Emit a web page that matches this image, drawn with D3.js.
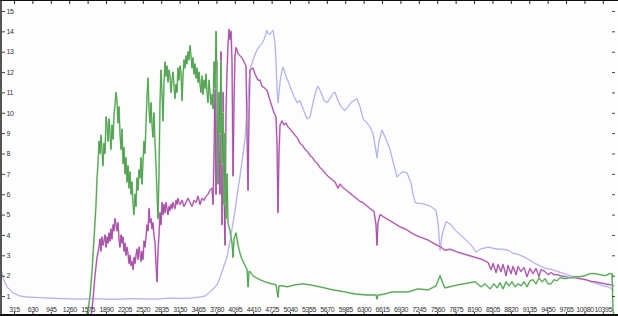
<!DOCTYPE html>
<html>
<head>
<meta charset="utf-8">
<script src="https://cdn.jsdelivr.net/npm/d3@7"></script>
<style>
  body { margin: 0; background: #fff; }
  svg { display: block; font-family: 'DejaVu Sans', sans-serif; }
  .tick text { fill: #333; font-size: 7px; letter-spacing: -0.4px; }
</style>
</head>
<body>
<div id="chart"></div>
<script>
// wavelength ticks along the bottom (every 315)
var xTicks = [315, 630, 945, 1260, 1575, 1890, 2205, 2520, 2835, 3150, 3465, 3780, 4095, 4410, 4725,
  5040, 5355, 5670, 5985, 6300, 6615, 6930, 7245, 7560, 7875, 8190, 8505, 8820, 9135, 9450,
  9765, 10080, 10395]
var yTicks = [1, 2, 3, 4, 5, 6, 7, 8, 9, 10, 11, 12, 13, 14, 15]

// [wavelength, flux]
var blueSpec = [
  [75, 2.6], [126, 1.9], [195, 1.45], [298, 1.15], [417, 1.0], [537, 0.95], [760, 0.92], [931, 0.9],
  [1102, 0.88], [1270, 0.86], [1445, 0.85], [1620, 0.87], [1787, 0.86], [1960, 0.84], [2129, 0.85],
  [2300, 0.87], [2472, 0.87], [2640, 0.85], [2814, 0.86], [2985, 0.9], [3157, 0.88], [3328, 0.9],
  [3499, 0.95], [3585, 1.0], [3670, 1.2], [3739, 1.4], [3790, 1.55], [3841, 1.9], [3876, 2.2],
  [3910, 2.5], [3961, 2.9], [4013, 3.7], [4064, 4.6], [4098, 5.2], [4132, 5.9], [4184, 6.9],
  [4218, 7.6], [4269, 8.7], [4304, 10.0], [4355, 12.1], [4406, 12.6], [4475, 13.1], [4526, 13.3],
  [4560, 13.4], [4595, 13.6], [4646, 14.05], [4663, 13.9], [4698, 13.85], [4732, 14.0], [4749, 14.05],
  [4783, 13.4], [4800, 12.5], [4817, 11.2], [4834, 10.5], [4869, 11.5], [4903, 12.1], [4920, 12.25],
  [4971, 11.8], [5040, 11.3], [5108, 10.8], [5160, 10.5], [5211, 10.6], [5262, 10.2], [5331, 9.7],
  [5382, 9.8], [5434, 10.5], [5485, 11.1], [5519, 11.3], [5571, 11.0], [5622, 10.6], [5673, 10.5],
  [5725, 10.7], [5776, 10.95], [5810, 11.0], [5862, 10.6], [5913, 10.3], [5981, 10.1], [6033, 10.3],
  [6084, 10.5], [6135, 10.6], [6185, 10.7], [6238, 10.3], [6290, 9.7], [6358, 9.5], [6409, 9.3],
  [6461, 9.0], [6495, 8.4], [6529, 7.8], [6563, 8.6], [6615, 9.15], [6683, 8.7], [6752, 8.2],
  [6803, 7.6], [6872, 6.85], [6923, 7.0], [6974, 7.1], [7043, 7.05], [7077, 6.8], [7111, 6.55],
  [7146, 6.0], [7180, 5.6], [7231, 5.55], [7283, 5.55], [7351, 5.5], [7454, 5.4], [7539, 5.2],
  [7574, 4.6], [7608, 3.25], [7642, 4.0], [7710, 4.65], [7779, 4.55], [7865, 4.25], [7916, 4.1],
  [8002, 3.9], [8087, 3.65], [8156, 3.45], [8224, 3.15], [8292, 3.3], [8361, 3.35], [8430, 3.4],
  [8515, 3.35], [8601, 3.3], [8686, 3.3], [8772, 3.25], [8857, 3.1], [8943, 3.05], [9063, 2.9],
  [9148, 2.75], [9234, 2.6], [9337, 2.45], [9422, 2.35], [9525, 2.3], [9628, 2.2], [9730, 2.1],
  [9833, 2.0], [9919, 1.95], [10004, 1.85], [10107, 1.8], [10193, 1.7], [10296, 1.6], [10398, 1.5],
  [10484, 1.45], [10586, 1.3]
]

var purpleSpec = [
  [1633, 0], [1667, 0.8], [1701, 2.0], [1736, 2.9], [1770, 3.4], [1787, 3.8], [1804, 3.2], [1821, 3.9],
  [1838, 3.5], [1855, 3.7], [1873, 4.0], [1890, 3.4], [1907, 3.9], [1924, 3.6], [1941, 4.1], [1958, 3.7],
  [1975, 4.3], [1992, 3.8], [2010, 4.5], [2027, 4.2], [2044, 4.8], [2061, 4.5], [2078, 4.2], [2095, 4.6],
  [2112, 3.8], [2129, 3.4], [2147, 4.0], [2164, 3.6], [2181, 3.9], [2198, 3.2], [2215, 3.6], [2232, 3.0],
  [2249, 3.4], [2266, 3.1], [2284, 2.6], [2301, 3.0], [2318, 2.5], [2335, 2.7], [2352, 2.3], [2369, 2.9],
  [2386, 2.6], [2403, 3.0], [2420, 3.3], [2438, 2.8], [2455, 3.4], [2472, 3.1], [2489, 2.7], [2506, 3.2],
  [2523, 2.8], [2540, 3.7], [2557, 3.4], [2575, 3.9], [2592, 4.5], [2609, 4.2], [2626, 5.3], [2643, 4.6],
  [2660, 4.8], [2677, 4.3], [2694, 4.6], [2711, 4.0], [2729, 3.6], [2746, 2.5], [2763, 1.7], [2780, 3.2],
  [2797, 4.0], [2814, 5.1], [2831, 4.5], [2848, 5.6], [2866, 5.0], [2883, 5.5], [2900, 5.1], [2917, 5.6],
  [2934, 5.3], [2951, 5.0], [2968, 5.4], [2985, 5.2], [3003, 5.5], [3020, 5.3], [3037, 5.6], [3054, 5.4],
  [3071, 5.3], [3088, 5.7], [3105, 5.5], [3122, 5.8], [3139, 5.6], [3157, 5.5], [3191, 5.7], [3225, 5.4],
  [3259, 5.6], [3294, 5.8], [3328, 5.6], [3362, 5.4], [3396, 5.7], [3431, 5.6], [3465, 5.9], [3499, 5.5],
  [3533, 5.8], [3567, 5.7], [3602, 5.9], [3636, 6.0], [3670, 6.2], [3704, 6.3], [3722, 5.5], [3739, 8.0],
  [3756, 11.5], [3773, 6.0], [3790, 12.5], [3807, 7.0], [3824, 9.5], [3841, 6.0], [3858, 13.0], [3876, 4.5],
  [3893, 11.0], [3910, 6.5], [3927, 3.5], [3944, 10.0], [3961, 12.0], [3978, 13.3], [3995, 14.1],
  [4013, 13.6], [4030, 14.0], [4047, 12.5], [4064, 6.9], [4081, 10.5], [4098, 12.8], [4115, 13.2],
  [4132, 13.1], [4150, 12.9], [4184, 12.8], [4218, 12.7], [4252, 12.5], [4287, 12.3], [4304, 9.0],
  [4321, 6.2], [4338, 10.0], [4355, 12.1], [4406, 12.2], [4441, 11.9], [4492, 11.6], [4526, 11.6],
  [4560, 11.3], [4612, 11.2], [4646, 11.1], [4698, 10.6], [4732, 10.3], [4766, 10.0], [4800, 9.8],
  [4817, 8.5], [4834, 5.1], [4851, 8.0], [4869, 9.4], [4903, 9.6], [4937, 9.4], [4971, 9.5], [5006, 9.3],
  [5040, 9.2], [5083, 9.05], [5126, 8.9], [5168, 8.75], [5211, 8.5], [5254, 8.4], [5297, 8.2],
  [5340, 8.1], [5382, 7.9], [5425, 7.8], [5468, 7.6], [5511, 7.5], [5554, 7.3], [5597, 7.2], [5639, 7.05],
  [5682, 6.9], [5725, 6.8], [5768, 6.7], [5810, 6.6], [5862, 6.3], [5896, 6.5], [5938, 6.35],
  [5981, 6.25], [6024, 6.15], [6067, 6.05], [6109, 5.95], [6151, 5.85], [6195, 5.75], [6238, 5.65],
  [6281, 5.6], [6324, 5.5], [6367, 5.4], [6409, 5.3], [6478, 5.15], [6512, 4.5], [6529, 3.5], [6546, 4.6],
  [6581, 5.0], [6666, 4.85], [6752, 4.7], [6837, 4.55], [6923, 4.4], [7009, 4.3], [7094, 4.15],
  [7180, 4.0], [7266, 3.9], [7403, 3.75], [7522, 3.55], [7625, 3.4], [7693, 3.25], [7779, 3.3],
  [7916, 3.15], [8036, 3.05], [8207, 2.9], [8327, 2.8], [8430, 2.65], [8481, 2.3], [8515, 2.6],
  [8567, 2.15], [8601, 2.55], [8652, 2.2], [8686, 2.55], [8738, 2.0], [8772, 2.5], [8823, 2.1],
  [8857, 2.45], [8909, 2.05], [8943, 2.45], [8994, 2.2], [9046, 2.4], [9097, 1.95], [9148, 2.35],
  [9200, 2.1], [9251, 2.35], [9302, 1.95], [9337, 2.3], [9405, 2.2], [9457, 2.05], [9508, 2.15],
  [9559, 2.05], [9611, 2.05], [9662, 2.0], [9748, 1.95], [9833, 1.9], [9919, 1.9], [10004, 1.85],
  [10107, 1.8], [10193, 1.72], [10261, 1.7], [10347, 1.65], [10433, 1.6], [10535, 1.55], [10586, 1.5]
]

var greenSpec = [
  [1445, 0], [1547, 0], [1582, 0.3], [1616, 1.0], [1650, 2.2], [1684, 3.8], [1719, 5.5], [1736, 6.8],
  [1753, 7.5], [1770, 8.6], [1787, 8.0], [1804, 8.9], [1821, 8.2], [1838, 7.4], [1855, 8.5], [1873, 8.0],
  [1890, 9.8], [1907, 9.4], [1924, 8.6], [1941, 9.7], [1958, 9.0], [1975, 8.2], [1992, 9.4], [2010, 8.7],
  [2027, 9.9], [2044, 10.4], [2061, 11.0], [2078, 10.6], [2095, 9.5], [2112, 10.3], [2129, 9.0],
  [2147, 8.2], [2164, 9.2], [2181, 7.5], [2198, 8.3], [2215, 7.0], [2232, 7.8], [2249, 6.6], [2266, 7.4],
  [2284, 6.3], [2301, 7.1], [2318, 6.0], [2335, 6.6], [2352, 5.5], [2369, 5.0], [2386, 6.0], [2403, 5.4],
  [2420, 6.8], [2438, 6.2], [2455, 7.2], [2472, 6.8], [2489, 7.8], [2506, 6.5], [2523, 7.6], [2540, 8.6],
  [2557, 8.0], [2575, 9.5], [2592, 10.8], [2609, 11.7], [2626, 10.2], [2643, 9.5], [2660, 10.5],
  [2677, 9.4], [2694, 8.8], [2711, 10.0], [2729, 8.5], [2746, 7.4], [2763, 6.0], [2780, 4.8], [2797, 7.0],
  [2814, 10.5], [2831, 12.1], [2848, 11.0], [2866, 9.6], [2883, 11.5], [2900, 12.5], [2917, 11.8],
  [2934, 12.3], [2951, 11.5], [2968, 12.1], [2985, 11.8], [3003, 11.0], [3020, 11.6], [3037, 12.0],
  [3054, 11.3], [3071, 10.7], [3088, 11.4], [3105, 11.0], [3122, 12.2], [3139, 11.6], [3157, 12.3],
  [3174, 12.0], [3191, 10.6], [3208, 11.8], [3225, 12.6], [3242, 12.2], [3259, 12.8], [3276, 12.4],
  [3294, 13.0], [3311, 12.6], [3328, 13.3], [3345, 12.8], [3362, 12.2], [3379, 12.7], [3396, 11.9],
  [3413, 12.4], [3431, 11.7], [3448, 12.2], [3465, 11.5], [3482, 12.0], [3499, 11.4], [3516, 11.0],
  [3533, 11.8], [3550, 10.9], [3567, 11.6], [3585, 11.2], [3602, 11.9], [3619, 11.0], [3636, 10.5],
  [3653, 11.6], [3670, 11.0], [3687, 10.4], [3704, 10.9], [3722, 10.2], [3739, 12.5], [3756, 11.2],
  [3773, 14.0], [3790, 11.5], [3807, 6.5], [3824, 11.0], [3841, 9.0], [3858, 12.5], [3876, 7.5],
  [3893, 10.0], [3910, 5.5], [3927, 9.0], [3944, 4.8], [3961, 7.0], [3978, 4.6], [4013, 4.2], [4047, 3.6],
  [4064, 2.9], [4081, 3.8], [4115, 4.1], [4150, 3.5], [4184, 3.1], [4218, 2.8], [4252, 2.6], [4287, 2.4],
  [4304, 2.3], [4321, 1.45], [4338, 2.2], [4355, 2.2], [4406, 2.0], [4458, 1.9], [4526, 1.8], [4612, 1.7],
  [4698, 1.62], [4800, 1.55], [4834, 0.95], [4851, 1.5], [4920, 1.5], [4988, 1.45], [5126, 1.55],
  [5262, 1.6], [5382, 1.55], [5554, 1.45], [5776, 1.3], [5981, 1.2], [6151, 1.1], [6358, 1.05],
  [6512, 1.05], [6529, 0.85], [6546, 1.05], [6666, 1.1], [6786, 1.2], [6923, 1.2], [7060, 1.2],
  [7231, 1.35], [7403, 1.3], [7539, 1.5], [7608, 2.0], [7660, 1.6], [7693, 1.4], [7916, 1.55],
  [8207, 1.7], [8310, 1.45], [8378, 1.6], [8464, 1.35], [8532, 1.6], [8584, 1.4], [8635, 1.65],
  [8686, 1.35], [8738, 1.7], [8789, 1.5], [8840, 1.7], [8892, 1.45], [8943, 1.6], [8994, 1.5],
  [9046, 1.7], [9097, 1.45], [9148, 1.75], [9200, 1.8], [9251, 1.6], [9302, 1.9], [9354, 1.7],
  [9405, 1.85], [9457, 1.6], [9508, 1.6], [9559, 1.8], [9611, 1.75], [9662, 1.9], [9748, 1.85],
  [9833, 1.9], [9919, 1.95], [10004, 1.95], [10090, 2.0], [10176, 2.1], [10261, 2.1], [10347, 2.05],
  [10433, 2.0], [10518, 2.1], [10552, 2.1], [10569, 0.3], [10586, 0]
]

var width = 618
var height = 316

var x = d3.scaleLinear().domain([75, 10586]).range([0, 614])
var y = d3.scaleLinear().domain([0, 15.5]).range([316.4, 0.8])

var svg = d3.select('#chart')
  .append('svg')
  .attr('width', width)
  .attr('height', height)

svg.append('rect')
  .attr('width', width)
  .attr('height', height)
  .attr('fill', '#fdfdfd')

svg.append('defs')
  .append('clipPath')
  .attr('id', 'plot-clip')
  .append('rect')
  .attr('x', 2)
  .attr('y', 1)
  .attr('width', 614)
  .attr('height', 313)

var line = d3.line()
  .x(function (d) { return x(d[0]) })
  .y(function (d) { return y(d[1]) })

var plot = svg.append('g').attr('clip-path', 'url(#plot-clip)')

// light halo first, then the darker core
var series = [
  { data: blueSpec, halo: '#d2d2f8', core: '#a2a2f0', haloW: 1.4 },
  { data: purpleSpec, halo: '#dcaadc', core: '#8e2a8e', haloW: 1.8 },
  { data: greenSpec, halo: '#a6d8a6', core: '#2f8a2f', haloW: 1.8 }
]

series.forEach(function (s) {
  plot.append('path')
    .datum(s.data)
    .attr('fill', 'none')
    .attr('stroke', s.halo)
    .attr('stroke-width', s.haloW)
    .attr('stroke-linejoin', 'round')
    .attr('d', line)
  plot.append('path')
    .datum(s.data)
    .attr('fill', 'none')
    .attr('stroke', s.core)
    .attr('stroke-width', 0.7)
    .attr('stroke-linejoin', 'round')
    .attr('d', line)
})

// bottom axis: labels sit inside the plot, ticks point up
var xAxis = svg.append('g')
  .attr('transform', 'translate(0,314)')
  .call(d3.axisTop(x).tickValues(xTicks).tickSize(2).tickPadding(0).tickFormat(d3.format('d')))
xAxis.select('.domain').remove()
xAxis.selectAll('.tick line').attr('stroke', '#333')
xAxis.selectAll('.tick text')
  .attr('y', 0)
  .attr('dy', '-2.5px')
  .style('text-anchor', 'middle')

// top border with ticks pointing down
var topAxis = svg.append('g')
  .attr('transform', 'translate(0,1)')
  .call(d3.axisBottom(x).tickValues(xTicks).tickSize(3).tickFormat(''))
topAxis.select('.domain').remove()
topAxis.selectAll('.tick line').attr('stroke', '#222')

// left axis, labels inside
var yAxis = svg.append('g')
  .attr('transform', 'translate(2,0)')
  .call(d3.axisRight(y).tickValues(yTicks).tickSize(3).tickPadding(1.5))
yAxis.select('.domain').remove()
yAxis.selectAll('.tick line').attr('stroke', '#444')

// right side ticks
var rightAxis = svg.append('g')
  .attr('transform', 'translate(615,0)')
  .call(d3.axisLeft(y).tickValues(yTicks).tickSize(3).tickFormat(''))
rightAxis.select('.domain').remove()
rightAxis.selectAll('.tick line').attr('stroke', '#444')

// frame
svg.append('rect').attr('x', 0).attr('y', 0).attr('width', 2).attr('height', height).attr('fill', '#555')
svg.append('line').attr('x1', 0).attr('x2', width).attr('y1', 0.5).attr('y2', 0.5).attr('stroke', '#111')
svg.append('line').attr('x1', 0).attr('x2', width).attr('y1', 315).attr('y2', 315).attr('stroke', '#111').attr('stroke-width', 2)
</script>
</body>
</html>
